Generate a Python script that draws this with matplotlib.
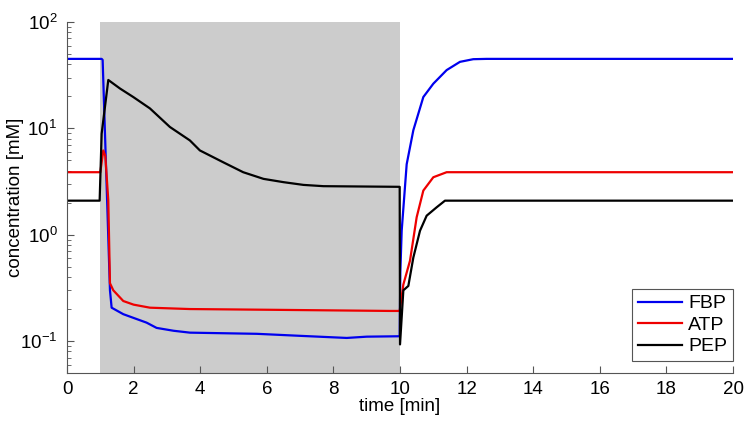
import matplotlib
matplotlib.use('Agg')
import matplotlib.pyplot as plt
from matplotlib.ticker import LogLocator, NullFormatter

plt.rcParams['font.family'] = ['Liberation Sans', 'DejaVu Sans']
plt.rcParams['mathtext.fontset'] = 'custom'
plt.rcParams['mathtext.rm'] = 'Liberation Sans'
plt.rcParams['mathtext.it'] = 'Liberation Sans'

# pulse window (gray band)
pulse = [1.0, 10.0]

# FBP
fbp_t = [0, 1.04, 1.07, 1.29, 1.34, 1.69, 2.0, 2.39, 2.69, 3.2, 3.69, 5.7, 7.0, 8.4, 9.0, 9.99,
         10.01, 10.05, 10.2, 10.4, 10.7, 11.0, 11.4, 11.8, 12.2, 12.6, 20]
fbp = [45, 45, 44, 0.30, 0.206, 0.179, 0.165, 0.149, 0.133, 0.125, 0.12, 0.117, 0.112, 0.107, 0.11, 0.111,
       0.45, 1.09, 4.6, 9.6, 19.7, 26.3, 35.3, 42.2, 44.7, 45, 45]

# ATP
atp_t = [0, 1.0, 1.09, 1.15, 1.24, 1.29, 1.39, 1.69, 2.0, 2.49, 3.69, 6.0, 9.7, 9.99,
         10.1, 10.3, 10.5, 10.7, 11.0, 11.4, 20]
atp = [3.87, 3.87, 6.2, 5.5, 2.1, 0.35, 0.30, 0.238, 0.22, 0.206, 0.2, 0.197, 0.192, 0.192,
       0.34, 0.57, 1.46, 2.6, 3.47, 3.87, 3.87]

# PEP
pep_t = [0, 0.98, 1.04, 1.24, 1.59, 1.99, 2.49, 3.09, 3.69, 3.99, 4.69, 5.29, 5.9, 6.5, 7.1, 7.7, 9.99,
         10.0, 10.1, 10.25, 10.4, 10.6, 10.8, 11.1, 11.35, 20]
pep = [2.09, 2.09, 8.9, 28.5, 23.7, 19.7, 15.4, 10.3, 7.7, 6.2, 4.8, 3.87, 3.35, 3.12, 2.94, 2.86, 2.82,
       0.093, 0.30, 0.33, 0.61, 1.09, 1.51, 1.81, 2.09, 2.09]

fig = plt.figure(figsize=(7.47, 4.23), dpi=100)
ax = fig.add_axes([0.0897, 0.118, 0.8916, 0.830])

ax.axvspan(pulse[0], pulse[1], color='#cccccc', lw=0, zorder=0)
ax.plot(fbp_t, fbp, color='#0000ee', lw=1.6, label='FBP')
ax.plot(atp_t, atp, color='#ee0000', lw=1.6, label='ATP')
ax.plot(pep_t, pep, color='black', lw=1.6, label='PEP')

ax.set_yscale('log')
ax.set_xlim(0, 20)
ax.set_ylim(0.05, 100)
ax.set_xticks(range(0, 21, 2))
ax.yaxis.set_minor_locator(LogLocator(base=10, subs=range(2, 10)))
ax.yaxis.set_minor_formatter(NullFormatter())

for s in ['top', 'right']:
    ax.spines[s].set_visible(False)
for s in ['left', 'bottom']:
    ax.spines[s].set_color('#555555')
    ax.spines[s].set_linewidth(0.8)
ax.tick_params(which='both', direction='in', colors='#555555', labelcolor='black', labelsize=13.5)
ax.tick_params(which='major', length=5)
ax.tick_params(which='minor', length=3)
ax.tick_params(axis='x', pad=6)
ax.tick_params(axis='y', pad=7)

ax.set_xlabel('time [min]', fontsize=13.5, labelpad=0)
ax.set_ylabel('concentration [mM]', fontsize=13.5)
ax.yaxis.set_label_coords(-0.065, 0.5)

leg = ax.legend(loc='lower right', bbox_to_anchor=(1.0, 0.034), borderaxespad=0,
                fontsize=14, fancybox=False, framealpha=1, edgecolor='#555555',
                handlelength=2.3, handletextpad=0.3, borderpad=0.3, labelspacing=0.2)
leg.get_frame().set_linewidth(0.8)

fig.savefig('out.png', dpi=100)
